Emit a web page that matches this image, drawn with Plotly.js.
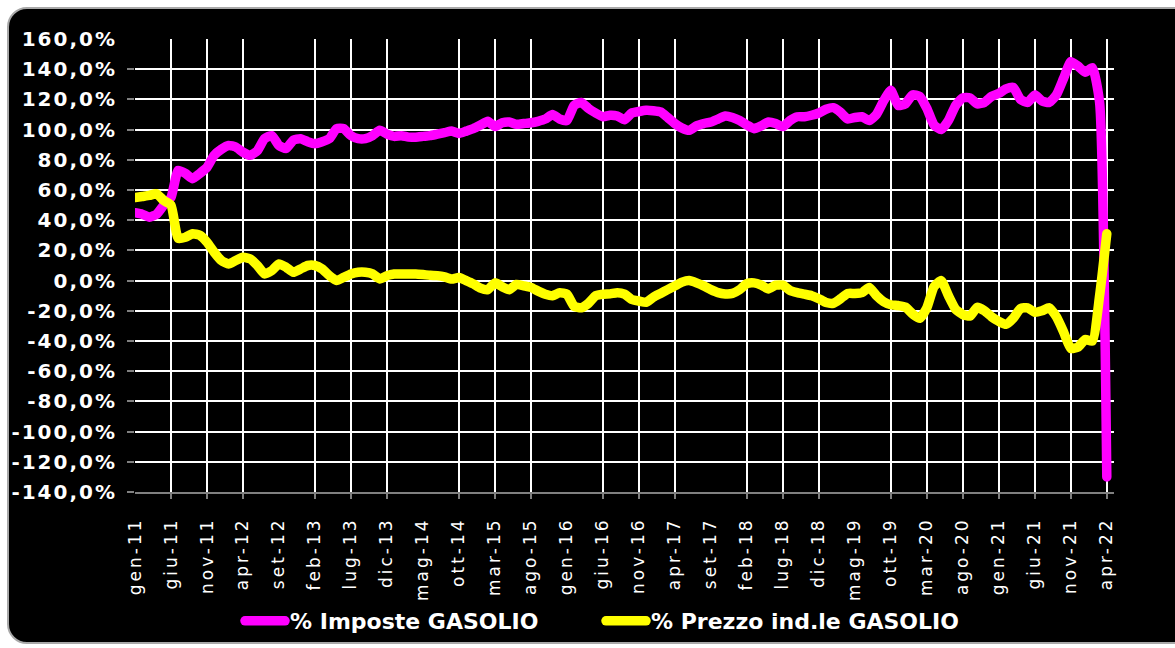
<!DOCTYPE html>
<html>
<head>
<meta charset="utf-8">
<script src="https://cdn.plot.ly/plotly-3.0.1.min.js"></script>
<style>
html,body{margin:0;padding:0;background:#fff;width:1175px;height:648px;overflow:hidden;}
#frame{position:absolute;left:7px;top:7px;width:1200px;height:637px;background:#000;border:2px solid #a8a8a8;border-radius:20px;box-sizing:border-box;}
#chart{position:absolute;left:0;top:0;width:1175px;height:648px;}
.y2tick text{letter-spacing:2px;}
.x2tick text{letter-spacing:3px;}
path.js-line{stroke-linejoin:round !important;stroke-linecap:round !important;}
</style>
</head>
<body>
<div id="frame"></div>
<div id="chart"></div>
<script>
// Category labels (months, Italian abbreviations)
const monthNames = ['gen','feb','mar','apr','mag','giu','lug','ago','set','ott','nov','dic'];
const months = [];
for (let y = 11; y <= 22; y++) {
  for (let m = 0; m < 12; m++) {
    if (y === 22 && m > 3) break;
    months.push(monthNames[m] + '-' + y);
  }
}

// % Imposte GASOLIO (monthly, gen-11 .. apr-22)
const imposte = [
  45, 44, 42, 44, 50, 55, 73, 71, 67.5, 71, 75, 83, 87, 89.5, 88.5, 85, 83, 86, 94, 96,
  89.5, 87.5, 93, 94, 92, 90.7, 92, 94, 100.6, 100.6, 96, 94, 94, 96, 99.5, 97,
  95.5, 96, 95, 95, 95.5, 96, 97, 98, 99, 97.5, 99, 100.6, 103, 105.5, 102, 104.5, 105, 103.5,
  104, 104.5, 105.5, 107, 110, 107, 106, 116, 118, 114, 111, 108.5, 109.5, 109, 106.5, 111,
  112, 112.8, 112.5, 111.7, 108, 104, 101, 99.5, 102.5, 104, 105, 107, 109, 108, 106, 103,
  100.6, 102.5, 105, 104, 102, 106, 108.5, 108.5, 109.5, 111, 113.5, 114.5, 111.5, 107, 108,
  108.5, 106, 110, 119, 126, 116, 117, 123, 122, 114, 103, 100, 106, 116, 121, 121, 117, 118,
  122, 124, 127, 128, 120, 118, 123, 119, 118, 123, 134, 145, 142, 138, 141, 118, -130
];

// % Prezzo ind.le GASOLIO
const prezzo = [
  55, 55.7, 56.4, 57.5, 53, 50, 28, 28.7, 31, 30, 25.4, 18.8, 13.3, 11, 13.3, 15.5, 14.4, 10, 4.4, 6.6,
  11, 8.8, 5.5, 7.7, 10, 10, 7.7, 3.3, 0, 2.2, 4.4, 5.5, 5.5, 4.4, 1.1, 3.3,
  4.4, 4.4, 4.4, 4.4, 4, 3.5, 3.3, 2.5, 1, 2, 0, -2.2, -5, -6, -1.5, -4, -6, -2.5, -3.5, -4.5,
  -7, -9, -10, -8, -9, -17, -18, -15, -10, -9, -8.8, -8, -9, -12.5, -13.5, -14.4, -11, -8.5,
  -6, -3.5, -1, 0, -1.5, -3.5, -6, -8, -8.8, -8.5, -6, -2, -1.5, -3, -5.5, -3, -3, -6.6, -8,
  -9, -10, -12, -14.5, -15, -12, -8.5, -8.5, -8, -4.5, -10, -14, -16, -16.5, -17.5, -22, -25,
  -18, -4, 0, -10, -19, -22.5, -23.5, -17.7, -20, -24, -27, -29, -25, -18.5, -18, -21, -20,
  -18, -24, -34, -45, -44, -39, -40, -10, 31
];

const seriesNames = ['% Imposte GASOLIO', '% Prezzo ind.le GASOLIO'];
const yTickVals = [-140, -120, -100, -80, -60, -40, -20, 0, 20, 40, 60, 80, 100, 120, 140, 160];
const yTickText = ['-140,0%', '-120,0%', '-100,0%', '-80,0%', '-60,0%', '-40,0%', '-20,0%', '0,0%',
  '20,0%', '40,0%', '60,0%', '80,0%', '100,0%', '120,0%', '140,0%', '160,0%'];

const idx = months.map((_, i) => i);
const labelIdx = idx.filter(i => i % 5 === 0);
const labelText = labelIdx.map(i => months[i]);
// vertical gridlines as they appear in the picture
const gridIdx = labelIdx.filter(i => i !== 0 && !(i % 20 === 0 && i <= 100));
const yGridVals = yTickVals.filter(v => v < 160);

const traces = [
  {x: idx, y: imposte, name: seriesNames[0], type: 'scatter', mode: 'lines', xaxis: 'x', yaxis: 'y',
   line: {color: '#FF00FF', width: 9.5, shape: 'spline', smoothing: 0.5}},
  {x: idx, y: prezzo, name: seriesNames[1], type: 'scatter', mode: 'lines', xaxis: 'x2', yaxis: 'y2',
   line: {color: '#FFFF00', width: 9.5, shape: 'spline', smoothing: 0.5}}
];

const layout = {
  width: 1175, height: 648,
  paper_bgcolor: 'rgba(0,0,0,0)',
  plot_bgcolor: '#000',
  margin: {l: 135, r: 61, t: 39, b: 156, pad: 0},
  showlegend: true,
  legend: {
    orientation: 'h', xref: 'container', yref: 'container',
    xanchor: 'left', yanchor: 'middle', x: 240 / 1175, y: (648 - 621) / 648,
    bgcolor: 'rgba(0,0,0,0)', borderwidth: 0, itemwidth: 40,
    font: {family: 'DejaVu Sans, Verdana, sans-serif', size: 22, color: '#fff', weight: 'bold'},
    entrywidth: 306, itemclick: false
  },
  xaxis: {
    type: 'linear', range: [0, 136], tickmode: 'array', tickvals: gridIdx,
    showticklabels: false, ticks: 'outside', ticklen: 5, tickwidth: 2, tickcolor: '#808080',
    showgrid: true, gridcolor: '#ffffff', gridwidth: 2,
    showline: true, linecolor: '#808080', linewidth: 2, zeroline: false, fixedrange: true
  },
  xaxis2: {
    type: 'linear', overlaying: 'x', anchor: 'y2', side: 'bottom', range: [0, 136],
    tickmode: 'array', tickvals: labelIdx, ticktext: labelText, tickangle: -90,
    ticks: '', showgrid: false, zeroline: false, showline: false, ticklabelstandoff: 21,
    tickfont: {family: 'DejaVu Sans, Verdana, sans-serif', size: 17, color: '#fff'}, fixedrange: true
  },
  yaxis: {
    range: [-140, 160], tickmode: 'array', tickvals: yGridVals, showticklabels: false,
    ticks: 'outside', ticklen: 7, tickwidth: 2, tickcolor: '#808080',
    showgrid: true, gridcolor: '#ffffff', gridwidth: 2, zeroline: false, showline: false,
    fixedrange: true
  },
  yaxis2: {
    overlaying: 'y', anchor: 'x2', side: 'left', range: [-140, 160],
    tickmode: 'array', tickvals: yTickVals, ticktext: yTickText,
    ticks: '', showgrid: false, zeroline: false, showline: false, ticklabelstandoff: 17,
    tickfont: {family: 'DejaVu Sans, Verdana, sans-serif', size: 20, color: '#fff', weight: 'bold'},
    fixedrange: true
  }
};

Plotly.newPlot('chart', traces, layout, {displayModeBar: false, staticPlot: true});
</script>
</body>
</html>
